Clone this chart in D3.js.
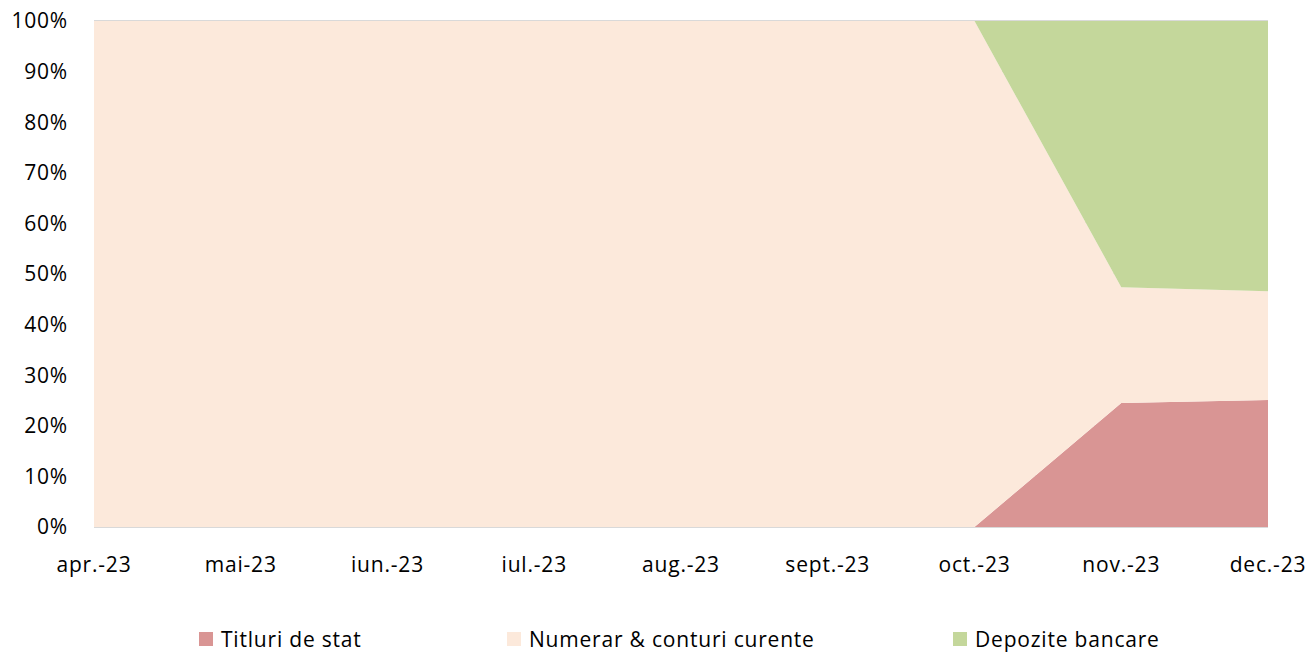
<!DOCTYPE html>
<html>
<head>
<meta charset="utf-8">
<script src="https://cdn.jsdelivr.net/npm/d3@7"></script>
<style>
  body { margin: 0; background: #fff; }
  svg text { font-family: "Open Sans", "Noto Sans", sans-serif; fill: #000; letter-spacing: 0.8px; }
</style>
</head>
<body>
<div id="chart"></div>
<script>
'use strict';

// months shown on the x axis
const months = ["apr.-23", "mai-23", "iun.-23", "iul.-23", "aug.-23", "sept.-23", "oct.-23", "nov.-23", "dec.-23"];
// share of each instrument in the portfolio, %
const titluri = [0, 0, 0, 0, 0, 0, 0, 24.5, 25.1];
const numerar = [100, 100, 100, 100, 100, 100, 100, 22.9, 21.5];
const depozite = [0, 0, 0, 0, 0, 0, 0, 52.6, 53.4];
const seriesNames = ["Titluri de stat", "Numerar & conturi curente", "Depozite bancare"];
const colors = ["#d99594", "#fce9db", "#c4d79b"];
const yTicks = [0, 10, 20, 30, 40, 50, 60, 70, 80, 90, 100];

const width = 1309, height = 653;
const margin = {top: 21, right: 41, bottom: 126, left: 94};

let rows = months.map((m, i) => ({month: m, t: titluri[i], n: numerar[i], d: depozite[i]}));
let stack = d3.stack().keys(["t", "n", "d"]);
let layers = stack(rows);

let svg = d3.select("#chart").append("svg")
    .attr("width", width)
    .attr("height", height);

let x = d3.scalePoint()
    .domain(months)
    .range([margin.left, width - margin.right]);

let y = d3.scaleLinear()
    .domain([0, 100])
    .range([height - margin.bottom, margin.top]);

// gridlines (mostly hidden behind the areas)
svg.append("g")
    .selectAll("line")
    .data(yTicks)
    .join("line")
    .attr("x1", margin.left)
    .attr("x2", width - margin.right)
    .attr("y1", d => Math.round(y(d)) + (d === 0 ? 0.5 : -0.5))
    .attr("y2", d => Math.round(y(d)) + (d === 0 ? 0.5 : -0.5))
    .attr("stroke", "#d9d9d9")
    .attr("stroke-width", 1);

let area = d3.area()
    .x(d => x(d.data.month))
    .y0(d => y(d[0]))
    .y1(d => y(d[1]));

svg.append("g")
    .selectAll("path")
    .data(layers)
    .join("path")
    .attr("d", area)
    .attr("fill", (d, i) => colors[i]);

// y axis labels
svg.append("g")
    .selectAll("text")
    .data(yTicks)
    .join("text")
    .attr("x", 68)
    .attr("y", d => y(d))
    .attr("dy", "0.35em")
    .attr("text-anchor", "end")
    .style("font-size", "21px")
    .text(d => d + "%");

// x axis labels
svg.append("g")
    .selectAll("text")
    .data(months)
    .join("text")
    .attr("x", d => x(d))
    .attr("y", 572)
    .attr("text-anchor", "middle")
    .style("font-size", "21px")
    .text(d => d);

// legend
let legendX = [199, 507, 953];
let legend = svg.append("g")
    .selectAll("g")
    .data(seriesNames)
    .join("g")
    .attr("transform", (d, i) => `translate(${legendX[i]},632)`);

legend.append("rect")
    .attr("width", 14)
    .attr("height", 14)
    .attr("fill", (d, i) => colors[i]);

legend.append("text")
    .attr("x", 22)
    .attr("y", 8)
    .attr("dy", "0.35em")
    .style("font-size", "21px")
    .text(d => d);
</script>
</body>
</html>
